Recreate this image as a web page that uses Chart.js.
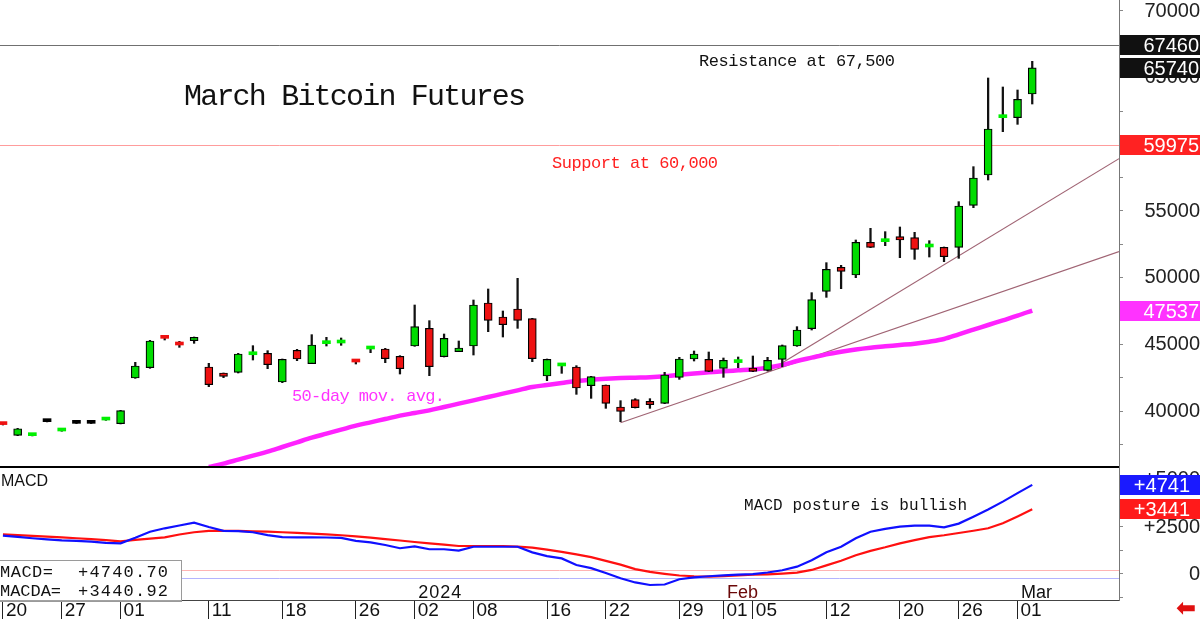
<!DOCTYPE html>
<html>
<head>
<meta charset="utf-8">
<title>March Bitcoin Futures</title>
<script src="https://cdn.jsdelivr.net/npm/chart.js@4.4.1/dist/chart.umd.min.js"></script>
<style>
  html, body { margin: 0; padding: 0; background: #ffffff; overflow: hidden; }
  canvas { display: block; }
</style>
</head>
<body>
<canvas id="price_chart" width="1200" height="619"></canvas>
<script>
// trading days on the chart (no bar for Thanksgiving, 23 Nov)
const dates = [
  '2023-11-20', '2023-11-21', '2023-11-22', '2023-11-24', '2023-11-27', '2023-11-28', '2023-11-29', '2023-11-30',
  '2023-12-01', '2023-12-04', '2023-12-05', '2023-12-06', '2023-12-07', '2023-12-08', '2023-12-11', '2023-12-12',
  '2023-12-13', '2023-12-14', '2023-12-15', '2023-12-18', '2023-12-19', '2023-12-20', '2023-12-21', '2023-12-22',
  '2023-12-26', '2023-12-27', '2023-12-28', '2023-12-29', '2024-01-02', '2024-01-03', '2024-01-04', '2024-01-05',
  '2024-01-08', '2024-01-09', '2024-01-10', '2024-01-11', '2024-01-12', '2024-01-16', '2024-01-17', '2024-01-18',
  '2024-01-19', '2024-01-22', '2024-01-23', '2024-01-24', '2024-01-25', '2024-01-26', '2024-01-29', '2024-01-30',
  '2024-01-31', '2024-02-01', '2024-02-02', '2024-02-05', '2024-02-06', '2024-02-07', '2024-02-08', '2024-02-09',
  '2024-02-12', '2024-02-13', '2024-02-14', '2024-02-15', '2024-02-16', '2024-02-20', '2024-02-21', '2024-02-22',
  '2024-02-23', '2024-02-26', '2024-02-27', '2024-02-28', '2024-02-29', '2024-03-01', '2024-03-04'
];

const opens = [
  39050, 38170, 38150, 39200, 38500, 39075, 39075, 39320, 39050, 42475,
  43250, 45575, 45000, 45275, 43300, 42850, 42900, 44220, 44325, 42175,
  44550, 43550, 45050, 45100, 43725, 44650, 44650, 44100, 44875, 46200,
  44075, 44450, 44875, 48100, 47050, 47650, 46925, 42625, 43380, 43300,
  41900, 41950, 40300, 40850, 40725, 40575, 42525, 43900, 43875, 43200,
  43630, 43225, 43050, 43875, 44875, 46175, 48975, 50775, 50200, 52650,
  52700, 53075, 53000, 52300, 52275, 52275, 55425, 57700, 62000, 62000,
  63775
];
const highs = [
  39080, 38700, 38220, 39220, 38570, 39090, 39090, 39400, 40050, 43650,
  45300, 45600, 45225, 45550, 43575, 42850, 44325, 44900, 44525, 43900,
  44625, 45725, 45525, 45475, 43725, 44700, 44700, 44150, 47950, 46775,
  45775, 45250, 48325, 49150, 47500, 49950, 46950, 43900, 43525, 43400,
  42600, 41950, 40775, 40925, 40925, 42900, 44025, 44500, 44425, 43975,
  44050, 44125, 44025, 44950, 46325, 48875, 51125, 50925, 52825, 53700,
  53450, 53800, 53400, 52775, 52300, 55700, 58325, 64975, 64300, 64075,
  66225
];
const lows = [
  38950, 38150, 38130, 39180, 38480, 39060, 39060, 39300, 39030, 42450,
  43200, 45325, 44775, 45075, 41825, 42500, 42850, 43825, 43175, 42125,
  43775, 43550, 44875, 44925, 43525, 44375, 43625, 42775, 44850, 42650,
  44050, 44450, 44200, 45950, 45550, 46200, 43700, 42275, 42825, 41250,
  40950, 40200, 39200, 40225, 40200, 40550, 42375, 43750, 42950, 42525,
  43250, 42950, 43000, 43325, 44850, 46075, 48525, 49175, 50000, 52250,
  52400, 51500, 51375, 51550, 51200, 51450, 55250, 57325, 60950, 61500,
  63025
];
const closes = [
  38980, 38670, 38200, 39200, 38550, 39075, 39075, 39380, 40025, 43375,
  45250, 45450, 44950, 45525, 41975, 42600, 44275, 44280, 43475, 43875,
  43900, 44950, 45100, 45150, 43675, 44700, 43925, 43175, 46325, 43325,
  45450, 44725, 47950, 46800, 46475, 46800, 43925, 43875, 43420, 41725,
  42575, 40575, 39975, 40250, 40475, 42700, 43900, 44275, 42975, 43800,
  43670, 42975, 43800, 44900, 46075, 48350, 50625, 50475, 52650, 52275,
  52750, 52825, 52125, 52350, 51575, 55375, 57475, 61150, 62050, 63375,
  65740
];

// 50-day moving average, only the part that shows above the pane floor
const ma50 = [
  null, null, null, null, null, null, null, null, null, null,
  null, null, null, null, 35800, 36050, 36350, 36650, 36950, 37300,
  37650, 38000, 38300, 38600, 38900, 39150, 39400, 39650, 39850, 40050,
  40300, 40550, 40800, 41050, 41300, 41550, 41800, 41950, 42100, 42250,
  42350, 42420, 42470, 42500, 42530, 42600, 42720, 42820, 42900, 42980,
  43050, 43120, 43250, 43450, 43750, 44000, 44250, 44450, 44620, 44750,
  44850, 44950, 45050, 45200, 45400, 45750, 46100, 46450, 46800, 47150,
  47537
];

const macd = [
  2040, 1970, 1900, 1840, 1790, 1760, 1720, 1660, 1630, 1930,
  2250, 2430, 2580, 2730, 2500, 2290, 2280, 2220, 2070, 1960,
  1950, 1945, 1940, 1920, 1760, 1680, 1540, 1370, 1470, 1315,
  1315, 1240, 1450, 1450, 1450, 1450, 1150, 950, 830, 480,
  310, 50, -230, -450, -585, -560, -280, -180, -120, -70,
  -35, -10, 80, 200, 390, 730, 1160, 1450, 1900, 2250,
  2400, 2520, 2570, 2570, 2480, 2680, 3050, 3430, 3850, 4300,
  4740.70
];
const macda = [
  2110, 2070, 2030, 1990, 1945, 1900, 1850, 1800, 1740, 1810,
  1880, 1950, 2100, 2220, 2290, 2300, 2290, 2270, 2250, 2220,
  2190, 2150, 2110, 2060, 2000, 1930, 1850, 1780, 1700, 1630,
  1560, 1490, 1490, 1490, 1490, 1460, 1400, 1300, 1180, 1040,
  900, 700, 500, 260, 110, 10, -80, -120, -140, -110,
  -70, -40, -15, 20, 70, 215, 460, 700, 1000, 1230,
  1420, 1630, 1800, 1960, 2060, 2180, 2300, 2430, 2700, 3060,
  3440.92
];

const axis_days = [
  '2023-11-20', '2023-11-27', '2023-12-01', '2023-12-11', '2023-12-18', '2023-12-26',
  '2024-01-02', '2024-01-08', '2024-01-16', '2024-01-22', '2024-01-29',
  '2024-02-01', '2024-02-05', '2024-02-12', '2024-02-20', '2024-02-26', '2024-03-01'
];
const month_marks = [['2024-01-02', '2024'], ['2024-02-01', 'Feb'], ['2024-03-01', 'Mar']];

const price_ticks = [37500, 40000, 42500, 45000, 47500, 50000, 52500, 55000, 57500, 60000, 62500, 65000, 67500, 70000];
const macd_ticks = [-1250, 0, 1250, 2500, 3750, 5000];

const resistance = 67460;
const support = 59975;
const macd_guides = [210, -220];

// hand drawn trend lines: [bar index, price]
const X_MIN = -0.2;
const X_MAX = 75.9;
const trend_flat = [[42, 39120], [X_MAX, 51950]];
const trend_steep = [[52, 42950], [X_MAX, 58925]];


function day_index(d) {
  return dates.indexOf(d);
}

function is_dash(i) {
  return Math.abs(closes[i] - opens[i]) < 200;
}

function body_colour(i) {
  if (closes[i] > opens[i]) return is_dash(i) ? '#00f000' : '#00dc00';
  if (closes[i] < opens[i]) return '#ee1111';
  return '#000000';
}

function hline(c, x0, x1, y, colour, width) {
  c.save();
  c.strokeStyle = colour;
  c.lineWidth = width;
  const yy = width % 2 ? Math.round(y) + 0.5 : Math.round(y);
  c.beginPath();
  c.moveTo(x0, yy);
  c.lineTo(x1, yy);
  c.stroke();
  c.restore();
}

// draws text stretched (by letter spacing) to the width it has on the original
function spaced_text(c, text, x, y, width, font, colour) {
  c.save();
  c.font = font;
  c.fillStyle = colour;
  c.textAlign = 'left';
  c.textBaseline = 'alphabetic';
  c.letterSpacing = '0px';
  const w = c.measureText(text).width;
  const gap = text.length > 1 ? (width - w) / (text.length - 1) : 0;
  c.letterSpacing = gap.toFixed(2) + 'px';
  c.fillText(text, x, y);
  c.restore();
}

function value_box(c, scale, value, bg, label, text_right) {
  const y = Math.round(scale.getPixelForValue(value));
  c.save();
  c.fillStyle = bg;
  c.fillRect(scale.left + 1, y - 10, scale.right - scale.left - 1, 20);
  c.fillStyle = '#ffffff';
  c.font = '20px "Liberation Sans"';
  c.textAlign = 'right';
  c.textBaseline = 'middle';
  c.fillText(label, text_right, y + 1);
  c.restore();
}

function signed(v) {
  return (v > 0 ? '+' : '') + v.toFixed(2);
}

const chart_marks = {
  id: 'chart_marks',
  beforeDatasetsDraw(chart) {
    const c = chart.ctx, a = chart.chartArea;
    const y = chart.scales.y, y2 = chart.scales.y2;
    hline(c, a.left, a.right, y.getPixelForValue(resistance), '#707070', 1);
    hline(c, a.left, a.right, y.getPixelForValue(support), '#ff9c9c', 1);
    hline(c, a.left, a.right, y2.getPixelForValue(macd_guides[0]), '#ffb4b4', 1);
    hline(c, a.left, a.right, y2.getPixelForValue(macd_guides[1]), '#b4b4ff', 1);
  },
  afterDraw(chart) {
    const c = chart.ctx, a = chart.chartArea;
    const x = chart.scales.x, y = chart.scales.y, y2 = chart.scales.y2;
    const last = dates.length - 1;

    // pane divider
    hline(c, a.left, a.right, y.bottom, '#000000', 2);

    // notes on the price pane
    spaced_text(c, 'March Bitcoin Futures', 184, 105, 342, '30px "Liberation Mono"', '#111111');
    spaced_text(c, 'Resistance at 67,500', 699, 66, 196, '17px "Liberation Mono"', '#111111');
    spaced_text(c, 'Support at 60,000', 552, 168, 166, '17px "Liberation Mono"', '#ff2020');
    spaced_text(c, '50-day mov. avg.', 292, 401, 153, '17px "Liberation Mono"', '#ff33ff');

    // MACD pane
    c.save();
    c.font = '16px "Liberation Sans"';
    c.fillStyle = '#111111';
    c.textAlign = 'left';
    c.textBaseline = 'alphabetic';
    c.fillText('MACD', 1, 486);
    c.restore();
    spaced_text(c, 'MACD posture is bullish', 744, 510, 223, '16px "Liberation Mono"', '#111111');

    month_marks.forEach(m => {
      const px = x.getPixelForValue(day_index(m[0])) + 3.5;
      const colour = m[1] === 'Feb' ? '#6a0808' : '#111111';
      spaced_text(c, m[1], px, 598, m[1].length === 4 ? 43 : 31, '18px "Liberation Sans"', colour);
    });

    // value read-out box
    c.save();
    c.fillStyle = '#ffffff';
    c.fillRect(0, 560.5, 181.5, 40);
    c.strokeStyle = '#9a9a9a';
    c.lineWidth = 1;
    c.strokeRect(-0.5, 560.5, 182, 41);
    c.restore();
    spaced_text(c, 'MACD=', 0, 577, 53, '17px "Liberation Mono"', '#111111');
    spaced_text(c, signed(macd[last]), 78, 577, 90, '17px "Liberation Mono"', '#111111');
    spaced_text(c, 'MACDA=', 0, 596, 61, '17px "Liberation Mono"', '#111111');
    spaced_text(c, signed(macda[last]), 78, 596, 90, '17px "Liberation Mono"', '#111111');

    // last values on the right axis
    value_box(c, y, resistance, '#111111', String(resistance), 1199);
    value_box(c, y, closes[last], '#111111', String(closes[last]), 1199);
    value_box(c, y, support, '#ff2222', String(support), 1199);
    value_box(c, y, ma50[last], '#ff33ff', String(ma50[last]), 1199);
    value_box(c, y2, macd[last], '#1a1aff', '+' + Math.round(macd[last]), 1190);
    value_box(c, y2, macda[last], '#ff1a1a', '+' + Math.round(macda[last]), 1190);

    // scroll arrow bottom right
    c.save();
    c.fillStyle = '#e01010';
    c.font = 'bold 24px "DejaVu Sans"';
    c.textAlign = 'left';
    c.textBaseline = 'middle';
    c.fillText('\u2B05', 1176, 610);
    c.restore();
  }
};

function draw_chart() {
  const canvas = document.getElementById('price_chart');

  const wick_points = dates.map((d, i) => ({ x: i, y: [lows[i], highs[i]] }));
  const body_points = dates.map((d, i) => ({ x: i, y: [opens[i], closes[i]] }));
  const ma_points = [];
  ma50.forEach((v, i) => { if (v !== null) ma_points.push({ x: i, y: v }); });
  const macd_points = macd.map((v, i) => ({ x: i, y: v }));
  const macda_points = macda.map((v, i) => ({ x: i, y: v }));
  const line_points = (pts) => pts.map(p => ({ x: p[0], y: p[1] }));

  const plain_line = { type: 'line', pointRadius: 0, fill: false, tension: 0 };

  new Chart(canvas.getContext('2d'), {
    type: 'line',
    data: {
      datasets: [
        {
          type: 'bar', label: 'body', data: body_points, yAxisID: 'y', order: 1,
          grouped: false, barThickness: 8, minBarLength: 3, borderSkipped: false,
          backgroundColor: (ctx) => body_colour(ctx.dataIndex),
          borderColor: '#000000',
          borderWidth: (ctx) => is_dash(ctx.dataIndex) ? 0 : 1.2
        },
        {
          type: 'bar', label: 'wick', data: wick_points, yAxisID: 'y', order: 2,
          grouped: false, barThickness: 1.6, backgroundColor: '#111111', borderWidth: 0
        },
        Object.assign({}, plain_line, {
          label: '50-day', data: ma_points, yAxisID: 'y', order: 3,
          borderColor: '#ff22ff', borderWidth: 4.5, cubicInterpolationMode: 'monotone'
        }),
        Object.assign({}, plain_line, {
          label: 'trend flat', data: line_points(trend_flat), yAxisID: 'y', order: 4,
          borderColor: '#a06474', borderWidth: 1.2
        }),
        Object.assign({}, plain_line, {
          label: 'trend steep', data: line_points(trend_steep), yAxisID: 'y', order: 4,
          borderColor: '#a06474', borderWidth: 1.2
        }),
        Object.assign({}, plain_line, {
          label: 'MACDA', data: macda_points, yAxisID: 'y2', order: 6,
          borderColor: '#ff1010', borderWidth: 2.2
        }),
        Object.assign({}, plain_line, {
          label: 'MACD', data: macd_points, yAxisID: 'y2', order: 5,
          borderColor: '#1010ff', borderWidth: 2.2
        })
      ]
    },
    options: {
      responsive: false,
      animation: false,
      layout: { padding: 0 },
      plugins: { legend: { display: false }, tooltip: { enabled: false } },
      scales: {
        x: {
          type: 'linear', position: 'bottom', min: X_MIN, max: X_MAX, offset: false,
          afterFit(s) { s.height = 19; s.paddingLeft = 0; s.paddingRight = 0; },
          afterBuildTicks(s) { s.ticks = axis_days.map(d => ({ value: day_index(d) })); },
          ticks: {
            autoSkip: false, maxRotation: 0, minRotation: 0, align: 'start',
            labelOffset: 3, padding: -20, color: '#111111',
            font: { family: 'Liberation Sans', size: 19 },
            callback: (v) => (dates[v] || '').slice(8)
          },
          grid: { offset: false, drawOnChartArea: false, drawTicks: true, tickLength: 19, tickColor: '#222222', tickWidth: 1 },
          border: { display: true, color: '#444444', width: 1 }
        },
        y: {
          type: 'linear', position: 'right', stack: 'panes', stackWeight: 467,
          min: 35800, max: 70825,
          afterFit(s) { s.width = 81; s.paddingTop = 0; s.paddingBottom = 0; },
          afterBuildTicks(s) { s.ticks = price_ticks.map(v => ({ value: v })); },
          ticks: {
            autoSkip: false, crossAlign: 'far', padding: 20, color: '#222222',
            font: { family: 'Liberation Sans', size: 20 },
            callback: (v) => v % 5000 === 0 ? String(v) : ''
          },
          grid: { drawOnChartArea: false, tickLength: 4, tickColor: '#888888' },
          border: { display: true, color: '#777777', width: 1 }
        },
        y2: {
          type: 'linear', position: 'right', stack: 'panes', stackWeight: 133,
          min: -1383, max: 5690,
          afterFit(s) { s.width = 81; s.paddingTop = 0; s.paddingBottom = 0; },
          afterBuildTicks(s) { s.ticks = macd_ticks.map(v => ({ value: v })); },
          ticks: {
            autoSkip: false, crossAlign: 'far', padding: 11, color: '#222222',
            font: { family: 'Liberation Sans', size: 20 },
            callback: (v) => v === 0 ? '0' : (v % 2500 === 0 ? (v > 0 ? '+' : '') + v : '')
          },
          grid: { drawOnChartArea: false, tickLength: 4, tickColor: '#888888' },
          border: { display: true, color: '#777777', width: 1 }
        }
      }
    },
    plugins: [chart_marks]
  });
}

draw_chart();
</script>
</body>
</html>
